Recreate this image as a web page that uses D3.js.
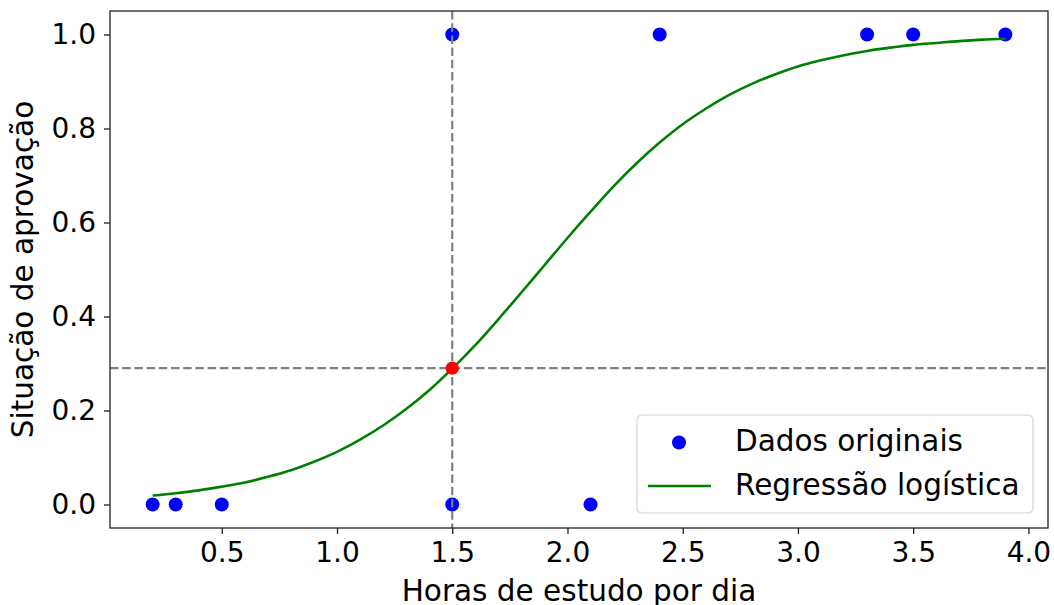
<!DOCTYPE html>
<html>
<head>
<meta charset="utf-8">
<script src="https://cdn.jsdelivr.net/npm/d3@7"></script>
<style>
  body { margin: 0; background: #fff; }
  svg text { font-family: "DejaVu Sans", sans-serif; fill: #000; }
</style>
</head>
<body>
<svg id="chart" width="1054" height="605"></svg>
<script>
// scatter data (hours studied, pass/fail)
var horas = [0.2, 0.3, 0.5, 1.5, 2.1, 1.5, 2.4, 3.3, 3.5, 3.9];
var aprovado = [0, 0, 0, 0, 0, 1, 1, 1, 1, 1];

// fitted curve
var curvaX = [0.2, 0.3, 0.4, 0.5, 0.6, 0.7, 0.8, 0.9, 1.0, 1.1, 1.2, 1.3, 1.4, 1.5, 1.6, 1.7, 1.8, 1.9,
  2.0, 2.1, 2.2, 2.3, 2.4, 2.5, 2.6, 2.7, 2.8, 2.9, 3.0, 3.1, 3.2, 3.3, 3.4, 3.5, 3.6, 3.7, 3.8, 3.9];
var curvaY = [0.019, 0.024, 0.030, 0.038, 0.047, 0.059, 0.073, 0.091, 0.112, 0.138, 0.168, 0.203, 0.243, 0.289, 0.339, 0.394, 0.451, 0.509,
  0.567, 0.623, 0.677, 0.726, 0.770, 0.809, 0.842, 0.871, 0.895, 0.915, 0.932, 0.945, 0.956, 0.965, 0.972, 0.978, 0.982, 0.986, 0.989, 0.991];

// highlighted prediction
var predX = 1.5;
var predY = 0.29;

var xTicks = [0.5, 1.0, 1.5, 2.0, 2.5, 3.0, 3.5, 4.0];
var yTicks = [0.0, 0.2, 0.4, 0.6, 0.8, 1.0];

var legendItems = ["Dados originais", "Regressão logística"];

var svg = d3.select("#chart");
var pl = 110, pr = 1048, pt = 11, pb = 528;

var x = d3.scaleLinear().domain([0.015, 4.085]).range([pl, pr]);
var y = d3.scaleLinear().domain([-0.05, 1.05]).range([pb, pt]);

var plot = svg.append("g");

// points
plot.selectAll("circle.dado")
  .data(horas.map(function(h, i){ return {h: h, a: aprovado[i]}; }))
  .enter().append("circle")
  .attr("class", "dado")
  .attr("cx", function(d){ return x(d.h); })
  .attr("cy", function(d){ return y(d.a); })
  .attr("r", 7)
  .attr("fill", "#0000ff");

// logistic curve
var line = d3.line()
  .x(function(d){ return x(d[0]); })
  .y(function(d){ return y(d[1]); })
  .curve(d3.curveMonotoneX);

plot.append("path")
  .datum(d3.zip(curvaX, curvaY))
  .attr("d", line)
  .attr("fill", "none")
  .attr("stroke", "#008000")
  .attr("stroke-width", 2.6);

// reference lines
plot.append("line")
  .attr("x1", x(predX)).attr("x2", x(predX))
  .attr("y1", pt).attr("y2", pb)
  .attr("stroke", "#808080").attr("stroke-width", 2.2)
  .attr("stroke-dasharray", "8.5,3.7");
plot.append("line")
  .attr("x1", pl).attr("x2", pr)
  .attr("y1", y(predY)).attr("y2", y(predY))
  .attr("stroke", "#808080").attr("stroke-width", 2.2)
  .attr("stroke-dasharray", "8.5,3.7");

plot.append("circle")
  .attr("cx", x(predX))
  .attr("cy", y(predY))
  .attr("r", 6.6)
  .attr("fill", "#ff0000");

// axes
var xAxis = d3.axisBottom(x).tickValues(xTicks).tickFormat(d3.format(".1f")).tickSize(6).tickPadding(8);
var yAxis = d3.axisLeft(y).tickValues(yTicks).tickFormat(d3.format(".1f")).tickSize(6).tickPadding(8);

var gx = svg.append("g").attr("transform", "translate(0," + pb + ")").call(xAxis);
var gy = svg.append("g").attr("transform", "translate(" + pl + ",0)").call(yAxis);
[gx, gy].forEach(function(g){
  g.select(".domain").remove();
  g.selectAll(".tick line").attr("stroke", "#222").attr("stroke-width", 1.3);
  g.selectAll(".tick text").style("font-size", "28px").attr("fill", "#000");
});
gx.selectAll(".tick text").attr("dy", "0.71em");

// frame
svg.append("rect")
  .attr("x", pl).attr("y", pt)
  .attr("width", pr - pl).attr("height", pb - pt)
  .attr("fill", "none").attr("stroke", "#222").attr("stroke-width", 1.3);

// axis titles
svg.append("text")
  .attr("x", (pl + pr) / 2).attr("y", 601)
  .attr("text-anchor", "middle")
  .style("font-size", "29.5px")
  .text("Horas de estudo por dia");
svg.append("text")
  .attr("transform", "translate(33," + ((pt + pb) / 2) + ") rotate(-90)")
  .attr("text-anchor", "middle")
  .style("font-size", "29.5px")
  .text("Situação de aprovação");

// legend
var lg = svg.append("g");
lg.append("rect")
  .attr("x", 637).attr("y", 415).attr("width", 396).attr("height", 98)
  .attr("rx", 5)
  .attr("fill", "#fff").attr("fill-opacity", 0.8)
  .attr("stroke", "#d4d4d4").attr("stroke-width", 1.2);
lg.append("circle").attr("cx", 679).attr("cy", 442.5).attr("r", 7).attr("fill", "#0000ff");
lg.append("line").attr("x1", 648).attr("x2", 711).attr("y1", 486).attr("y2", 486)
  .attr("stroke", "#008000").attr("stroke-width", 2.6);
lg.selectAll("text.item")
  .data(legendItems)
  .enter().append("text")
  .attr("class", "item")
  .attr("x", 735)
  .attr("y", function(d, i){ return 451 + i * 44; })
  .style("font-size", "29.5px")
  .text(function(d){ return d; });
</script>
</body>
</html>
